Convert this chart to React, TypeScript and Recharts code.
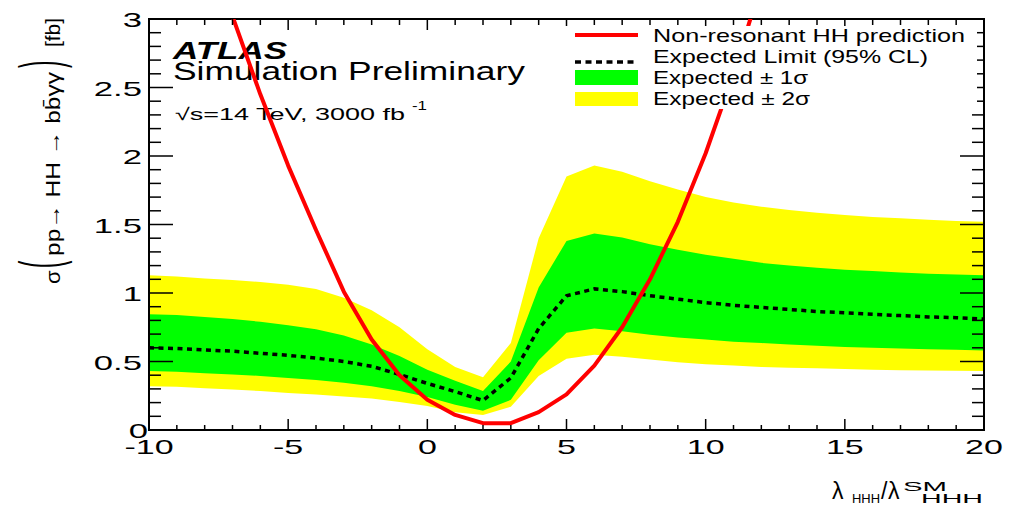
import React from 'react';
import { ComposedChart, XAxis, YAxis, Area, Line, ReferenceArea, Legend } from 'recharts';

// lambda_HHH / lambda_HHH^SM scan points
const LAMBDA = [-10, -9, -8, -7, -6, -5, -4, -3, -2, -1, 0, 1, 2, 3, 4, 5, 6, 7, 8, 9, 10, 11, 12, 13, 14, 15, 16, 17, 18, 19, 20];

// expected 95% CL limit on sigma(pp -> HH -> bbyy) [fb]
const EXPECTED = [0.60, 0.595, 0.585, 0.575, 0.56, 0.545, 0.525, 0.50, 0.465, 0.405, 0.34, 0.28, 0.215, 0.38, 0.74, 0.98, 1.03, 1.01, 0.98, 0.955, 0.93, 0.91, 0.895, 0.88, 0.865, 0.855, 0.845, 0.835, 0.825, 0.82, 0.81];

// +-1 sigma band
const ONE_SIGMA_LOW = [0.43, 0.425, 0.415, 0.405, 0.395, 0.38, 0.365, 0.345, 0.32, 0.285, 0.24, 0.185, 0.14, 0.22, 0.51, 0.71, 0.74, 0.72, 0.695, 0.675, 0.66, 0.645, 0.635, 0.625, 0.615, 0.605, 0.60, 0.595, 0.59, 0.585, 0.58];
const ONE_SIGMA_HIGH = [0.845, 0.84, 0.825, 0.81, 0.79, 0.765, 0.735, 0.69, 0.625, 0.54, 0.44, 0.36, 0.285, 0.50, 1.04, 1.38, 1.435, 1.405, 1.355, 1.315, 1.28, 1.25, 1.22, 1.20, 1.185, 1.17, 1.16, 1.15, 1.14, 1.135, 1.13];

// +-2 sigma band
const TWO_SIGMA_LOW = [0.32, 0.315, 0.305, 0.295, 0.285, 0.27, 0.26, 0.245, 0.23, 0.205, 0.175, 0.13, 0.11, 0.17, 0.395, 0.52, 0.55, 0.535, 0.515, 0.495, 0.48, 0.47, 0.46, 0.455, 0.45, 0.445, 0.44, 0.437, 0.435, 0.432, 0.43];
const TWO_SIGMA_HIGH = [1.13, 1.12, 1.105, 1.095, 1.08, 1.06, 1.03, 0.965, 0.875, 0.75, 0.59, 0.46, 0.385, 0.635, 1.40, 1.85, 1.93, 1.885, 1.815, 1.755, 1.70, 1.66, 1.63, 1.605, 1.585, 1.57, 1.555, 1.545, 1.535, 1.525, 1.52];

// non-resonant HH prediction (null where the curve is far above the frame)
const PREDICTION: (number | null)[] = [null, null, 3.65, 3.02, 2.45, 1.93, 1.46, 1.01, 0.66, 0.40, 0.22, 0.11, 0.05, 0.05, 0.13, 0.26, 0.47, 0.75, 1.10, 1.52, 2.02, 2.60, 3.26, null, null, null, null, null, null, null, null];

const X_TICKS = LAMBDA;
const Y_TICKS = Array.from({ length: 31 }, (_, i) => i / 10);

const LEGEND_LABELS = ['Non-resonant HH prediction', 'Expected Limit (95% CL)', 'Expected \u00b1 1\u03c3', 'Expected \u00b1 2\u03c3'];

const rows = LAMBDA.map((l, i) => ({
  lambda: l,
  expected: EXPECTED[i],
  oneSigma: [ONE_SIGMA_LOW[i], ONE_SIGMA_HIGH[i]],
  twoSigma: [TWO_SIGMA_LOW[i], TWO_SIGMA_HIGH[i]],
  prediction: PREDICTION[i],
}));

const W = 1011;
const H = 506;
const LEFT = 149;
const RIGHT = 984;
const TOP = 19;
const BOTTOM = 430;
const FONT = '"Liberation Sans", Arial, Helvetica, sans-serif';
const RED = '#ff0000';
const GREEN = '#00ff00';
const YELLOW = '#ffff00';

const XTick = (props: any) => {
  const { x, payload } = props;
  const v = payload.value as number;
  const major = v % 5 === 0;
  return (
    <g>
      <line x1={x} x2={x} y1={BOTTOM} y2={BOTTOM - (major ? 11 : 5)} stroke="#000" strokeWidth={1.5} />
      <line x1={x} x2={x} y1={TOP} y2={TOP + (major ? 11 : 6)} stroke="#000" strokeWidth={1.5} />
      {major && (
        <text
          transform={`translate(${x},454) scale(1.62,1)`}
          textAnchor="middle"
          fontFamily={FONT}
          fontSize={21}
          fill="#000"
        >
          {String(v)}
        </text>
      )}
    </g>
  );
};

const YTick = (props: any) => {
  const { y, payload } = props;
  const v = payload.value as number;
  const major = Math.abs(v * 2 - Math.round(v * 2)) < 1e-6;
  const len = major ? 24 : 12;
  const dx = v === 0 ? 6 : 0;
  return (
    <g>
      <line x1={LEFT} x2={LEFT + len} y1={y} y2={y} stroke="#000" strokeWidth={1.5} />
      <line x1={RIGHT - len} x2={RIGHT} y1={y} y2={y} stroke="#000" strokeWidth={1.5} />
      {major && (
        <text
          transform={`translate(${142 + dx},${y + 8}) scale(1.65,1)`}
          textAnchor="end"
          fontFamily={FONT}
          fontSize={21}
          fill="#000"
        >
          {String(v)}
        </text>
      )}
    </g>
  );
};

const LegendBox = () => (
  <svg width={415} height={83} style={{ display: 'block' }}>
    <rect x={0} y={0} width={415} height={83} fill="#fff" />
    <line x1={13} x2={76} y1={9} y2={9} stroke={RED} strokeWidth={4} />
    <line x1={13} x2={76} y1={36} y2={36} stroke="#000" strokeWidth={3.5} strokeDasharray="6 4.5" />
    <rect x={13} y={44} width={63} height={15} fill={GREEN} />
    <rect x={13} y={66} width={63} height={14} fill={YELLOW} />
    {LEGEND_LABELS.map((t, i) => (
      <text
        key={t}
        x={91}
        y={16 + i * 21}
        fontFamily={FONT}
        fontSize={19}
        fill="#000"
        textLength={[312, 275, 155, 157][i]}
        lengthAdjust="spacingAndGlyphs"
      >
        {t}
      </text>
    ))}
  </svg>
);

// rotated y-axis title pieces: page y where each piece starts (reading upwards)
const TitlePiece = ({ y0, scaleY, children, len }: { y0: number; scaleY: number; children: React.ReactNode; len?: number }) => (
  <text
    transform={`translate(60,${y0}) rotate(-90) scale(1,${scaleY})`}
    fontSize={22}
    textLength={len}
    lengthAdjust={len ? 'spacingAndGlyphs' : undefined}
  >
    {children}
  </text>
);

const Annotations = () => (
  <svg width={W} height={H} style={{ position: 'absolute', left: 0, top: 0 }}>
    <g fontFamily={FONT} fill="#000">
      <text x={173} y={59} fontSize={24} fontWeight="bold" fontStyle="italic" textLength={114} lengthAdjust="spacingAndGlyphs">
        ATLAS
      </text>
      <text x={173} y={80} fontSize={25} textLength={352} lengthAdjust="spacingAndGlyphs">
        Simulation Preliminary
      </text>
      <text x={175} y={120} fontSize={17} textLength={230} lengthAdjust="spacingAndGlyphs">
        {'\u221as=14 TeV, 3000 fb'}
      </text>
      <text x={412} y={110} fontSize={12} textLength={15} lengthAdjust="spacingAndGlyphs">
        -1
      </text>

      <TitlePiece y0={284} scaleY={0.9}>{'\u03c3'}</TitlePiece>
      <TitlePiece y0={268} scaleY={2.6}>(</TitlePiece>
      <TitlePiece y0={256} scaleY={0.9} len={184}>{'pp\u2192 HH \u2192 bb\u0304\u03b3\u03b3'}</TitlePiece>
      <TitlePiece y0={68} scaleY={2.6}>)</TitlePiece>
      <TitlePiece y0={47} scaleY={0.9} len={29}>[fb]</TitlePiece>

      <text x={832} y={499} fontSize={23}>{'\u03bb'}</text>
      <text x={852} y={503} fontSize={13} textLength={28} lengthAdjust="spacingAndGlyphs">HHH</text>
      <text x={881} y={499} fontSize={23}>/</text>
      <text x={888} y={499} fontSize={23}>{'\u03bb'}</text>
      <text x={903} y={491} fontSize={13} textLength={44} lengthAdjust="spacingAndGlyphs">SM</text>
      <text x={921} y={503} fontSize={13} textLength={62} lengthAdjust="spacingAndGlyphs">HHH</text>
    </g>
  </svg>
);

export default function App() {
  return (
    <div style={{ position: 'absolute', left: 0, top: 0, width: W, height: H, background: '#fff' }}>
      <Annotations />
      <div style={{ position: 'absolute', left: 0, top: 0 }}>
        <ComposedChart
          width={W}
          height={H}
          data={rows}
          margin={{ top: TOP, right: W - RIGHT, bottom: 0, left: 0 }}
        >
          <XAxis
            dataKey="lambda"
            type="number"
            domain={[-10, 20]}
            ticks={X_TICKS}
            interval={0}
            height={H - BOTTOM}
            tickSize={0}
            tickMargin={0}
            tickLine={false}
            tick={XTick}
            axisLine={{ stroke: '#000', strokeWidth: 2 }}
            allowDataOverflow
          />
          <YAxis
            type="number"
            domain={[0, 3]}
            ticks={Y_TICKS}
            interval={0}
            width={LEFT}
            tickSize={0}
            tickMargin={0}
            tickLine={false}
            tick={YTick}
            axisLine={{ stroke: '#000', strokeWidth: 2 }}
            allowDataOverflow
          />
          <Area
            dataKey="twoSigma"
            type="linear"
            stroke="none"
            fill={YELLOW}
            fillOpacity={1}
            dot={false}
            activeDot={false}
            isAnimationActive={false}
            legendType="rect"
          />
          <Area
            dataKey="oneSigma"
            type="linear"
            stroke="none"
            fill={GREEN}
            fillOpacity={1}
            dot={false}
            activeDot={false}
            isAnimationActive={false}
            legendType="rect"
          />
          <Line
            dataKey="expected"
            type="linear"
            stroke="#000"
            strokeWidth={3.5}
            strokeDasharray="5 4.5"
            dot={false}
            activeDot={false}
            isAnimationActive={false}
          />
          <Line
            dataKey="prediction"
            type="linear"
            stroke={RED}
            strokeWidth={4}
            strokeLinejoin="round"
            dot={false}
            activeDot={false}
            isAnimationActive={false}
          />
          <ReferenceArea x1={-10} x2={20} y1={0} y2={3} fill="none" fillOpacity={0} stroke="#000" strokeWidth={2} />
          <Legend
            layout="horizontal"
            verticalAlign="middle"
            align="center"
            content={<LegendBox />}
            wrapperStyle={{ left: 562, top: 26, width: 415, height: 83 }}
          />
        </ComposedChart>
      </div>
    </div>
  );
}
